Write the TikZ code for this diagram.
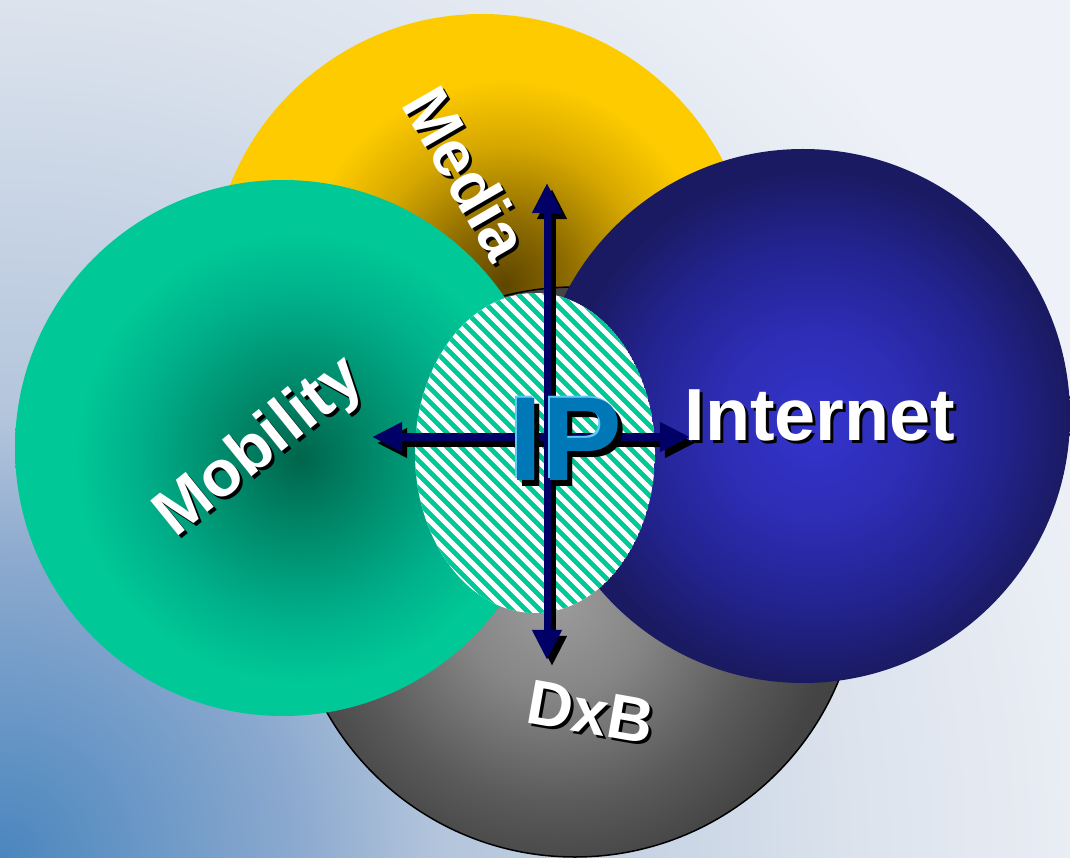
\documentclass[tikz,border=0pt]{standalone}
\usepackage{fontspec}
\setmainfont{Liberation Sans}
\usetikzlibrary{arrows.meta}
% background
\definecolor{bgA}{HTML}{4A86BE}
\definecolor{bgB}{HTML}{8DAACF}
\definecolor{bgC}{HTML}{B3C5DC}
\definecolor{bgD}{HTML}{DCE3ED}
\definecolor{bgE}{HTML}{EEF1F7}
\pgfdeclareradialshading{bgrad}{\pgfpoint{0bp}{0bp}}{color(0bp)=(bgA); color(5.5bp)=(bgB); color(8bp)=(bgC); color(15.6bp)=(bgD); color(21bp)=(bgE); color(50bp)=(bgE)}
% shape shadings: 12.5bp corresponds to the nominal radius (shaded circle has twice that radius)
% yellow
\definecolor{yA}{HTML}{5E4600}
\definecolor{yB}{HTML}{8E6C00}
\definecolor{yC}{HTML}{D6A800}
\definecolor{yD}{HTML}{FECB00}
\pgfdeclareradialshading{yelsh}{\pgfpoint{0bp}{0bp}}{color(0bp)=(yA); color(3bp)=(yB); color(6.5bp)=(yC); color(9.5bp)=(yD); color(50bp)=(yD)}
% green
\definecolor{gA}{HTML}{00654C}
\definecolor{gB}{HTML}{00896A}
\definecolor{gC}{HTML}{00B08A}
\definecolor{gD}{HTML}{00C896}
\pgfdeclareradialshading{grnsh}{\pgfpoint{0bp}{0bp}}{color(0bp)=(gA); color(3.5bp)=(gB); color(7.5bp)=(gC); color(10.5bp)=(gD); color(50bp)=(gD)}
% blue
\definecolor{bA}{HTML}{3434CC}
\definecolor{bB}{HTML}{2D2DB5}
\definecolor{bC}{HTML}{232390}
\definecolor{bD}{HTML}{1A1A62}
\pgfdeclareradialshading{blush}{\pgfpoint{0bp}{0bp}}{color(0bp)=(bA); color(4.5bp)=(bB); color(8.5bp)=(bC); color(12bp)=(bD); color(50bp)=(bD)}
% grey
\definecolor{kA}{HTML}{9C9C9C}
\definecolor{kB}{HTML}{858585}
\definecolor{kC}{HTML}{5A5A5A}
\definecolor{kD}{HTML}{444444}
\pgfdeclareradialshading{grysh}{\pgfpoint{0bp}{0bp}}{color(0bp)=(kA); color(4bp)=(kB); color(8.5bp)=(kC); color(11.5bp)=(kD); color(50bp)=(kD)}
\definecolor{navy}{HTML}{000066}
\definecolor{hatchgreen}{HTML}{00C896}
\definecolor{ipblue}{HTML}{0077B6}
\definecolor{iplight}{HTML}{5CCAF5}
\tikzset{
  lbl/.style={text=white, font=\bfseries\fontsize{21}{21}\selectfont, inner sep=0pt},
  lblshadow/.style={lbl, text=black},
  small/.style={font=\bfseries\fontsize{18.5}{18.5}\selectfont},
  biarrow/.style={line width=0.7mm, draw=navy, {Triangle[length=3mm,width=2.8mm]}-{Triangle[length=3mm,width=2.8mm]}},
  biarrowshadow/.style={biarrow, draw=black, fill=black},
  hatchline/.style={draw=hatchgreen, line width=0.48mm},
  ipfont/.style={font=\bfseries\fontsize{34}{34}\selectfont, inner sep=0pt}
}
\begin{document}
\begin{tikzpicture}[x=0.01cm, y=-0.01cm]
\useasboundingbox (0,0) rectangle (1070,858);
% background
\begin{scope}
  \clip (0,0) rectangle (1070,858);
  \shade[shading=bgrad] (0,858) circle (1375);
\end{scope}
% Media (yellow)
\begin{scope}
  \clip (482,285) circle (271);
  \shade[shading=yelsh] (505,285) circle (540);
\end{scope}
% DxB (grey)
\begin{scope}
  \clip (575,572) circle (285);
  \shade[shading=grysh] (555,600) circle (600);
\end{scope}
\draw[black, line width=0.15mm] (575,572) circle (285);
% Mobility (green)
\begin{scope}
  \clip (283,448) circle (268);
  \shade[shading=grnsh] (300,458) circle (536);
\end{scope}
% Internet (blue)
\begin{scope}
  \clip (803,416) circle (267);
  \shade[shading=blush] (815,425) circle (534);
\end{scope}
% hatched IP ellipse
\begin{scope}
  \clip (535,453) ellipse (120 and 160);
  \fill[white] (535,453) ellipse (120 and 160);
  \foreach \c in {-224,-210,...,400}
    \draw[hatchline] (\c+240,240) -- (\c+660,660);
\end{scope}
% arrows
\coordinate (aT) at (547,183);
\coordinate (aB) at (547,660);
\coordinate (aL) at (372,437);
\coordinate (aR) at (690,437);
\draw[biarrowshadow] ([shift={(5,6)}]aT) -- ([shift={(5,6)}]aB);
\draw[biarrowshadow] ([shift={(5,6)}]aL) -- ([shift={(5,6)}]aR);
\draw[biarrow] (aL) -- (aR);
\draw[biarrow] (aT) -- (aB);
% labels
\node[lblshadow, small, rotate=-60] (mediaS) at (470,176) {Media};
\node[lbl, small, rotate=-60] (media) at (467,173) {Media};
\node[lblshadow, small, rotate=39] (mobS) at (263,451) {Mobility};
\node[lbl, small, rotate=39] (mob) at (260,448) {Mobility};
\node[lblshadow] (intS) at (823,418) {Internet};
\node[lbl] (int) at (820,415) {Internet};
\node[lblshadow, rotate=-10, font=\bfseries\fontsize{18}{18}\selectfont] (dxbS) at (594,715) {DxB};
\node[lbl, rotate=-10, font=\bfseries\fontsize{18}{18}\selectfont] (dxb) at (591,712) {DxB};
% IP
\node[ipfont, text=black] (ipS) at (571,445) {IP};
\node[ipfont, text=iplight] (ipL) at (564,437) {IP};
\node[ipfont, text=ipblue] (ip) at (566,439) {IP};
\end{tikzpicture}
\end{document}
